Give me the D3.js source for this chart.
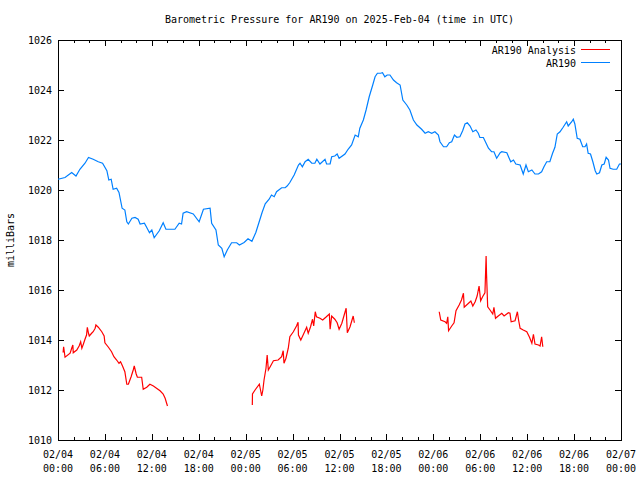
<!DOCTYPE html>
<html><head><meta charset="utf-8">
<script src="https://cdn.jsdelivr.net/npm/d3@7"></script>
<style>
html,body{margin:0;padding:0;background:#fff;}
svg text{font-family:"DejaVu Sans Mono","Liberation Mono",monospace;font-size:10px;fill:#000;}
</style></head>
<body><svg id="chart" width="640" height="480"></svg>
<script>
// Hours since 2025-02-04 00:00 UTC, pressure in millibars
const stationHours = [0.0,0.9,1.75,2.3,2.8,3.45,3.9,4.5,5.15,5.7,6.25,6.5,6.8,7.05,7.5,7.8,8.2,8.55,8.8,9.0,9.45,9.85,10.25,10.5,11.05,11.35,11.7,12.0,12.3,12.95,13.45,13.8,14.95,15.5,15.8,16.0,16.45,17.3,18.05,18.6,19.45,19.65,20.2,20.5,20.95,21.25,21.65,22.2,22.85,23.2,23.8,24.3,24.8,25.3,25.7,26.1,26.5,27.0,27.3,27.65,27.95,28.6,29.05,29.3,29.65,30.2,30.75,30.95,31.25,31.6,32.0,32.45,32.85,33.1,33.5,34.15,34.35,34.8,35.0,35.4,35.7,35.95,36.7,37.1,37.55,38.0,38.4,38.6,39.05,39.4,39.8,40.25,40.55,40.85,41.25,41.5,41.8,42.1,42.45,42.9,43.3,43.75,44.1,44.6,45.0,45.45,45.9,46.5,46.95,47.35,47.8,48.2,48.65,48.85,49.3,49.7,50.05,50.35,50.7,51.0,51.4,51.75,52.05,52.35,52.7,53.05,53.45,53.75,53.95,54.4,54.75,55.05,55.45,55.75,56.1,56.55,56.75,57.4,57.7,57.9,58.25,58.55,59.1,59.5,59.85,60.15,60.6,61.0,61.45,61.85,62.15,62.5,62.9,63.25,63.55,63.85,64.2,64.6,65.05,65.25,65.7,65.9,66.1,66.4,66.75,67.1,67.4,67.6,67.8,68.1,68.4,68.7,68.9,69.25,69.55,69.85,70.1,70.4,70.6,71.0,71.45,71.8,72.0];
const stationValues = [1020.43,1020.5,1020.7,1020.56,1020.83,1021.07,1021.3,1021.23,1021.13,1021.07,1020.77,1020.4,1020.43,1020.03,1020.07,1019.9,1019.27,1019.2,1018.73,1018.64,1018.87,1018.9,1018.83,1018.64,1018.67,1018.5,1018.29,1018.4,1018.09,1018.37,1018.69,1018.43,1018.43,1018.67,1018.64,1019.07,1019.13,1019.04,1018.73,1019.23,1019.27,1018.67,1018.4,1017.8,1017.67,1017.33,1017.6,1017.89,1017.89,1017.8,1017.9,1018.05,1017.95,1018.3,1018.7,1019.1,1019.45,1019.63,1019.8,1019.73,1019.93,1020.09,1020.09,1020.16,1020.3,1020.6,1021.0,1021.07,1020.93,1021.13,1021.23,1021.07,1021.07,1021.23,1021.04,1021.23,1021.04,1021.04,1021.33,1021.36,1021.44,1021.27,1021.44,1021.63,1021.8,1022.2,1022.13,1022.47,1022.8,1023.2,1023.73,1024.2,1024.53,1024.67,1024.67,1024.69,1024.53,1024.6,1024.6,1024.4,1024.29,1024.2,1023.6,1023.4,1023.2,1022.8,1022.6,1022.43,1022.27,1022.33,1022.27,1022.33,1022.2,1021.93,1021.73,1021.73,1021.89,1021.93,1022.2,1022.11,1022.13,1022.37,1022.64,1022.69,1022.56,1022.33,1022.4,1022.27,1022.1,1022.1,1021.87,1021.67,1021.53,1021.53,1021.27,1021.49,1021.53,1021.49,1021.27,1021.13,1021.2,1021.04,1021.0,1020.64,1021.0,1020.73,1020.8,1020.64,1020.64,1020.73,1020.93,1021.13,1021.13,1021.47,1021.71,1022.24,1022.33,1022.51,1022.73,1022.56,1022.73,1022.83,1022.64,1022.07,1022.03,1021.73,1021.73,1021.84,1021.47,1021.44,1021.13,1020.77,1020.64,1020.69,1021.0,1021.04,1021.31,1021.2,1020.87,1020.83,1020.83,1021.04,1021.04];

// Analysis series: null marks a gap
const analysisHours = [0.65,0.72,0.9,1.55,1.75,1.9,1.95,2.4,2.7,2.9,3.05,3.25,3.45,3.65,3.75,3.9,4.0,4.3,4.5,4.75,4.85,5.15,5.6,5.9,6.0,6.45,6.85,7.15,7.5,7.8,8.0,8.25,8.55,8.8,9.0,9.35,9.65,9.75,10.0,10.15,10.7,10.9,11.35,11.75,12.2,12.6,13.05,13.45,13.7,14.0,
  19.0,
  24.85,24.87,25.2,25.75,25.9,26.05,26.2,26.35,26.6,26.75,26.9,27.1,27.55,28.15,28.6,28.8,28.9,29.15,29.45,29.65,30.1,30.5,30.7,30.75,31.05,31.35,31.8,32.0,32.3,32.55,32.7,32.9,33.05,33.5,33.85,34.25,34.7,34.8,35.0,35.4,35.7,35.95,36.3,36.6,36.85,37.0,37.35,37.75,37.9,
  43.0,
  48.75,48.95,49.5,49.7,49.85,49.95,50.35,50.65,50.9,51.3,51.6,51.85,51.95,52.5,52.8,53.05,53.35,53.6,53.85,54.05,54.3,54.6,54.75,54.8,54.95,55.25,55.6,55.75,55.95,56.3,56.75,57.05,57.6,57.8,57.95,58.45,58.75,58.9,59.1,59.5,59.95,60.3,60.6,60.8,61.0,61.45,61.65,61.85,62.0];
const analysisValues = [1013.5,1013.73,1013.31,1013.47,1013.67,1013.8,1013.49,1013.6,1013.76,1013.93,1013.67,1013.84,1014.03,1014.2,1014.51,1014.27,1014.16,1014.27,1014.33,1014.47,1014.6,1014.51,1014.33,1014.16,1013.89,1013.71,1013.53,1013.33,1013.2,1013.07,1013.13,1012.96,1012.73,1012.23,1012.23,1012.53,1012.83,1012.96,1012.64,1012.51,1012.51,1012.03,1012.11,1012.23,1012.16,1012.07,1011.97,1011.84,1011.67,1011.36,
  null,
  1011.4,1011.84,1012.0,1012.23,1012.0,1011.76,1012.0,1012.4,1012.87,1013.4,1012.8,1012.91,1013.17,1013.2,1013.33,1013.57,1013.07,1013.27,1013.67,1014.13,1014.33,1014.56,1014.71,1014.2,1014.0,1014.2,1014.51,1014.27,1014.53,1014.83,1014.56,1015.13,1014.93,1014.87,1014.8,1014.91,1015.04,1014.43,1014.96,1014.83,1014.69,1014.43,1014.67,1015.0,1015.27,1014.29,1014.53,1014.96,1014.69,
  null,
  1015.13,1014.8,1014.73,1014.67,1014.93,1014.37,1014.56,1014.69,1015.17,1015.4,1015.6,1015.87,1015.31,1015.47,1015.56,1015.36,1015.53,1015.76,1016.16,1015.57,1015.73,1015.89,1017.36,1016.67,1015.33,1015.2,1015.04,1015.31,1014.87,1014.96,1015.07,1014.96,1015.09,1015.07,1014.73,1014.77,1015.13,1014.8,1014.47,1014.4,1014.33,1014.11,1013.87,1014.23,1013.84,1013.8,1013.76,1014.13,1013.73];

const yTicks = [1010,1012,1014,1016,1018,1020,1022,1024,1026];
const seriesNames = ["AR190 Analysis","AR190"];
const seriesColors = ["#ff0000","#0080ff"];
const titleText = "Barometric Pressure for AR190 on 2025-Feb-04 (time in UTC)";
const yLabelText = "milliBars";

const start = Date.UTC(2025,1,4,0,0);
const end = Date.UTC(2025,1,7,0,0);
const toDate = h => new Date(start + h*3600000);

const svg = d3.select("#chart");
const m = {l:58, r:621, t:40, b:440};
const x = d3.scaleUtc().domain([toDate(0), new Date(end)]).range([m.l, m.r]);
const y = d3.scaleLinear().domain([1010,1026]).range([m.b, m.t]);

const fmt1 = d3.utcFormat("%m/%d"), fmt2 = d3.utcFormat("%H:%M");
const majorT = d3.utcHour.every(6).range(new Date(start), new Date(end+1));
const minorT = d3.utcHour.every(2).range(new Date(start), new Date(end+1));

// minor ticks (top and bottom)
const g = svg.append("g").attr("shape-rendering","crispEdges");
minorT.forEach(t => {
  const px = Math.round(x(t))+0.5;
  g.append("line").attr("x1",px).attr("x2",px).attr("y1",m.b).attr("y2",m.b-3).attr("stroke","#000");
  g.append("line").attr("x1",px).attr("x2",px).attr("y1",m.t).attr("y2",m.t+3).attr("stroke","#000");
});
majorT.forEach(t => {
  const px = Math.round(x(t))+0.5;
  g.append("line").attr("x1",px).attr("x2",px).attr("y1",m.b).attr("y2",m.b-6).attr("stroke","#000");
  g.append("line").attr("x1",px).attr("x2",px).attr("y1",m.t).attr("y2",m.t+6).attr("stroke","#000");
  svg.append("text").attr("x",x(t)).attr("y",458).attr("text-anchor","middle").text(fmt1(t));
  svg.append("text").attr("x",x(t)).attr("y",472).attr("text-anchor","middle").text(fmt2(t));
});
yTicks.forEach(v => {
  const py = Math.round(y(v))+0.5;
  g.append("line").attr("x1",m.l).attr("x2",m.l+6).attr("y1",py).attr("y2",py).attr("stroke","#000");
  g.append("line").attr("x1",m.r).attr("x2",m.r-6).attr("y1",py).attr("y2",py).attr("stroke","#000");
  svg.append("text").attr("x",52).attr("y",y(v)+4).attr("text-anchor","end").text(v);
});

// data lines
const stationData = stationHours.map((h,i)=>({t:toDate(h), v:stationValues[i]}));
const analysisData = analysisHours.map((h,i)=>({t:toDate(h), v:analysisValues[i]}));
const line = d3.line().defined(d=>d.v!==null).x(d=>x(d.t)).y(d=>y(d.v));
svg.append("path").datum(analysisData).attr("d",line).attr("fill","none")
  .attr("stroke",seriesColors[0]).attr("stroke-width",1.2);
svg.append("path").datum(stationData).attr("d",line).attr("fill","none")
  .attr("stroke",seriesColors[1]).attr("stroke-width",1.2);

// frame
g.append("rect").attr("x",m.l+0.5).attr("y",m.t+0.5).attr("width",m.r-m.l).attr("height",m.b-m.t)
  .attr("fill","none").attr("stroke","#000");

// title and y label
svg.append("text").attr("x",(m.l+m.r)/2).attr("y",23).attr("text-anchor","middle").text(titleText);
svg.append("text").attr("transform","translate(14,240) rotate(-90)").attr("text-anchor","middle").text(yLabelText);

// legend
seriesNames.forEach((n,i) => {
  const ly = 49.5 + i*13;
  svg.append("text").attr("x",576).attr("y",ly+4).attr("text-anchor","end").text(n);
  svg.append("line").attr("x1",581).attr("x2",610).attr("y1",ly).attr("y2",ly)
    .attr("stroke",seriesColors[i]).attr("stroke-width",1).attr("shape-rendering","crispEdges");
});
</script></body></html>
